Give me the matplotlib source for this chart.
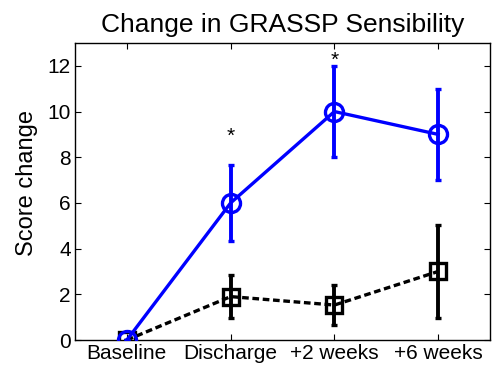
import matplotlib
matplotlib.use("Agg")
import matplotlib.pyplot as plt

plt.rcParams['font.family'] = ['Liberation Sans', 'DejaVu Sans']

categories = ["Baseline", "Discharge", "+2 weeks", "+6 weeks"]
blue_vals = [0, 6, 10, 9]
blue_err = [0, 1.67, 2.0, 2.0]
black_vals = [0, 1.9, 1.53, 3.0]
black_err = [0, 0.93, 0.88, 2.02]
star_pos = [1, 2]
star_y = [8.9, 12.25]
yticks = [0, 2, 4, 6, 8, 10, 12]

fig = plt.figure(figsize=(4.92, 3.74), dpi=100)
ax = fig.add_axes([0.1524, 0.0909, 0.8436, 0.7941])

x = list(range(1, len(categories) + 1))

ax.errorbar(x, black_vals, yerr=black_err, color='black', linestyle=(0, (2.0, 1.1)),
            linewidth=2.4, marker='s', markersize=12, markerfacecolor='none',
            markeredgewidth=2.4, elinewidth=2.8, capsize=2.2, capthick=2.8, zorder=2)
ax.errorbar(x, blue_vals, yerr=blue_err, color='#0000ff', linestyle='-',
            linewidth=2.4, marker='o', markersize=13, markerfacecolor='none',
            markeredgewidth=2.4, elinewidth=2.8, capsize=2.2, capthick=2.8, zorder=3)

for p, yv in zip(star_pos, star_y):
    ax.text(x[p], yv, '*', ha='center', va='center', fontsize=15)

ax.set_xlim(0.5, 4.5)
ax.set_ylim(0, 13)
ax.set_xticks(x)
ax.set_xticklabels(categories)
ax.set_yticks(yticks)
ax.tick_params(direction='in', top=True, right=True, labelsize=15, length=4, width=0.8, pad=3)
ax.set_ylabel('Score change', fontsize=17)
ax.yaxis.set_label_coords(-0.088, 0.53)
ax.set_title('Change in GRASSP Sensibility', fontsize=19, pad=8)
for s in ax.spines.values():
    s.set_linewidth(1.0)

fig.savefig('out.png', dpi=100)
